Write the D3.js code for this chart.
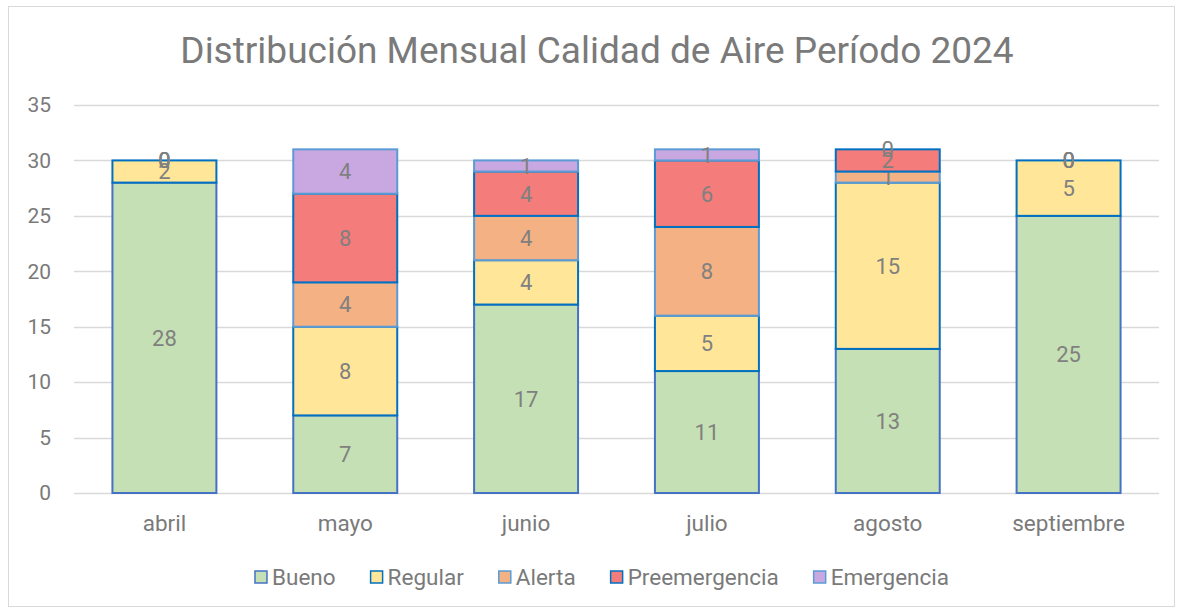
<!DOCTYPE html>
<html>
<head>
<meta charset="utf-8">
<script src="https://cdn.jsdelivr.net/npm/d3@7"></script>
<style>
  body { margin: 0; background: #fff; font-family: Roboto, "Open Sans", sans-serif; }
  svg text { font-family: Roboto, "Open Sans", sans-serif; }
</style>
</head>
<body>
<svg width="1179" height="610"></svg>
<script>
// months and series
var months = ['abril', 'mayo', 'junio', 'julio', 'agosto', 'septiembre']
var seriesNames = ['Bueno', 'Regular', 'Alerta', 'Preemergencia', 'Emergencia']
var bueno = [28, 7, 17, 11, 13, 25]
var regular = [2, 8, 4, 5, 15, 5]
var alerta = [0, 4, 4, 8, 1, 0]
var preemergencia = [0, 8, 4, 6, 2, 0]
var emergencia = [0, 4, 1, 1, 0, 0]
var yTicks = [0, 5, 10, 15, 20, 25, 30, 35]

var fills = ['#C5E0B4', '#FFE699', '#F4B183', '#F47C7A', '#C9A8E2']
var strokes = ['#4472C4', '#0070C0', '#5B9BD5', '#0070C0', '#5B9BD5']
var textColor = '#7a7a7a'

var svg = d3.select('svg')

// outer chart border
svg.append('rect')
    .attr('x', 8.5).attr('y', 6.5)
    .attr('width', 1166).attr('height', 600)
    .attr('fill', '#fff').attr('stroke', '#d9d9d9')

var plot = { left: 74, right: 1159, top: 105, bottom: 493 }

// build rows for stacking
var rows = months.map(function (m, i) {
    return { month: m, Bueno: bueno[i], Regular: regular[i], Alerta: alerta[i],
        Preemergencia: preemergencia[i], Emergencia: emergencia[i] }
})
var stacked = d3.stack().keys(seriesNames)(rows)

var x = d3.scaleBand().domain(months).range([plot.left, plot.right]).paddingInner(0.425).paddingOuter(0.2125)
var y = d3.scaleLinear().domain([0, 35]).range([plot.bottom, plot.top])

// gridlines
svg.append('g').selectAll('line')
    .data(yTicks).enter().append('line')
    .attr('x1', plot.left).attr('x2', plot.right)
    .attr('y1', function (d) { return Math.round(y(d)) + 0.5 })
    .attr('y2', function (d) { return Math.round(y(d)) + 0.5 })
    .attr('stroke', '#d9d9d9').attr('stroke-width', 1.3)

// y axis labels
var yAxis = svg.append('g')
    .attr('transform', 'translate(' + (plot.left - 23) + ',0)')
    .call(d3.axisLeft(y).tickValues(yTicks).tickSize(0).tickPadding(0))
yAxis.select('.domain').remove()
yAxis.selectAll('text').attr('fill', textColor).style('font-size', '21px')

// x axis labels
var xAxis = svg.append('g')
    .attr('transform', 'translate(0,' + (plot.bottom + 22) + ')')
    .call(d3.axisBottom(x).tickSize(0).tickPadding(0))
xAxis.select('.domain').remove()
xAxis.selectAll('text').attr('fill', textColor).style('font-size', '22.5px')

// bars
var layers = svg.append('g').selectAll('g')
    .data(stacked).enter().append('g')

layers.selectAll('rect')
    .data(function (d) { return d.map(function (v) { v.key = d.key; v.idx = d.index; return v }) })
    .enter().append('rect')
    .attr('x', function (d) { return x(d.data.month) })
    .attr('y', function (d) { return y(d[1]) })
    .attr('width', x.bandwidth())
    .attr('height', function (d) { return y(d[0]) - y(d[1]) })
    .attr('fill', function (d) { return fills[d.idx] })
    .attr('stroke', function (d) { return strokes[d.idx] })
    .attr('stroke-width', 2)

// data labels
layers.selectAll('text')
    .data(function (d) { return d })
    .enter().append('text')
    .attr('x', function (d) { return x(d.data.month) + x.bandwidth() / 2 })
    .attr('y', function (d) { return (y(d[0]) + y(d[1])) / 2 })
    .attr('dy', '0.36em')
    .attr('text-anchor', 'middle')
    .attr('fill', '#808080')
    .style('font-size', '22px')
    .text(function (d) { return d[1] - d[0] })

// title
svg.append('text')
    .attr('x', 597).attr('y', 63)
    .attr('text-anchor', 'middle')
    .attr('fill', textColor)
    .style('font-size', '37px')
    .text('Distribución Mensual Calidad de Aire Período 2024')

// legend
var legend = svg.append('g').attr('transform', 'translate(0,577)')
var lx = 0
var items = legend.selectAll('g').data(seriesNames).enter().append('g')
items.append('rect')
    .attr('y', -6).attr('width', 12).attr('height', 12)
    .attr('fill', function (d, i) { return fills[i] })
    .attr('stroke', function (d, i) { return strokes[i] })
    .attr('stroke-width', 1.5)
items.append('text')
    .attr('x', 17).attr('dy', '0.35em')
    .attr('fill', textColor)
    .style('font-size', '22.5px')
    .text(function (d) { return d })
items.each(function () {
    var g = d3.select(this)
    g.attr('transform', 'translate(' + lx + ',0)')
    lx += 17 + g.select('text').node().getComputedTextLength() + 35
})
lx -= 35
legend.attr('transform', 'translate(' + (602 - lx / 2) + ',577)')
</script>
</body>
</html>
